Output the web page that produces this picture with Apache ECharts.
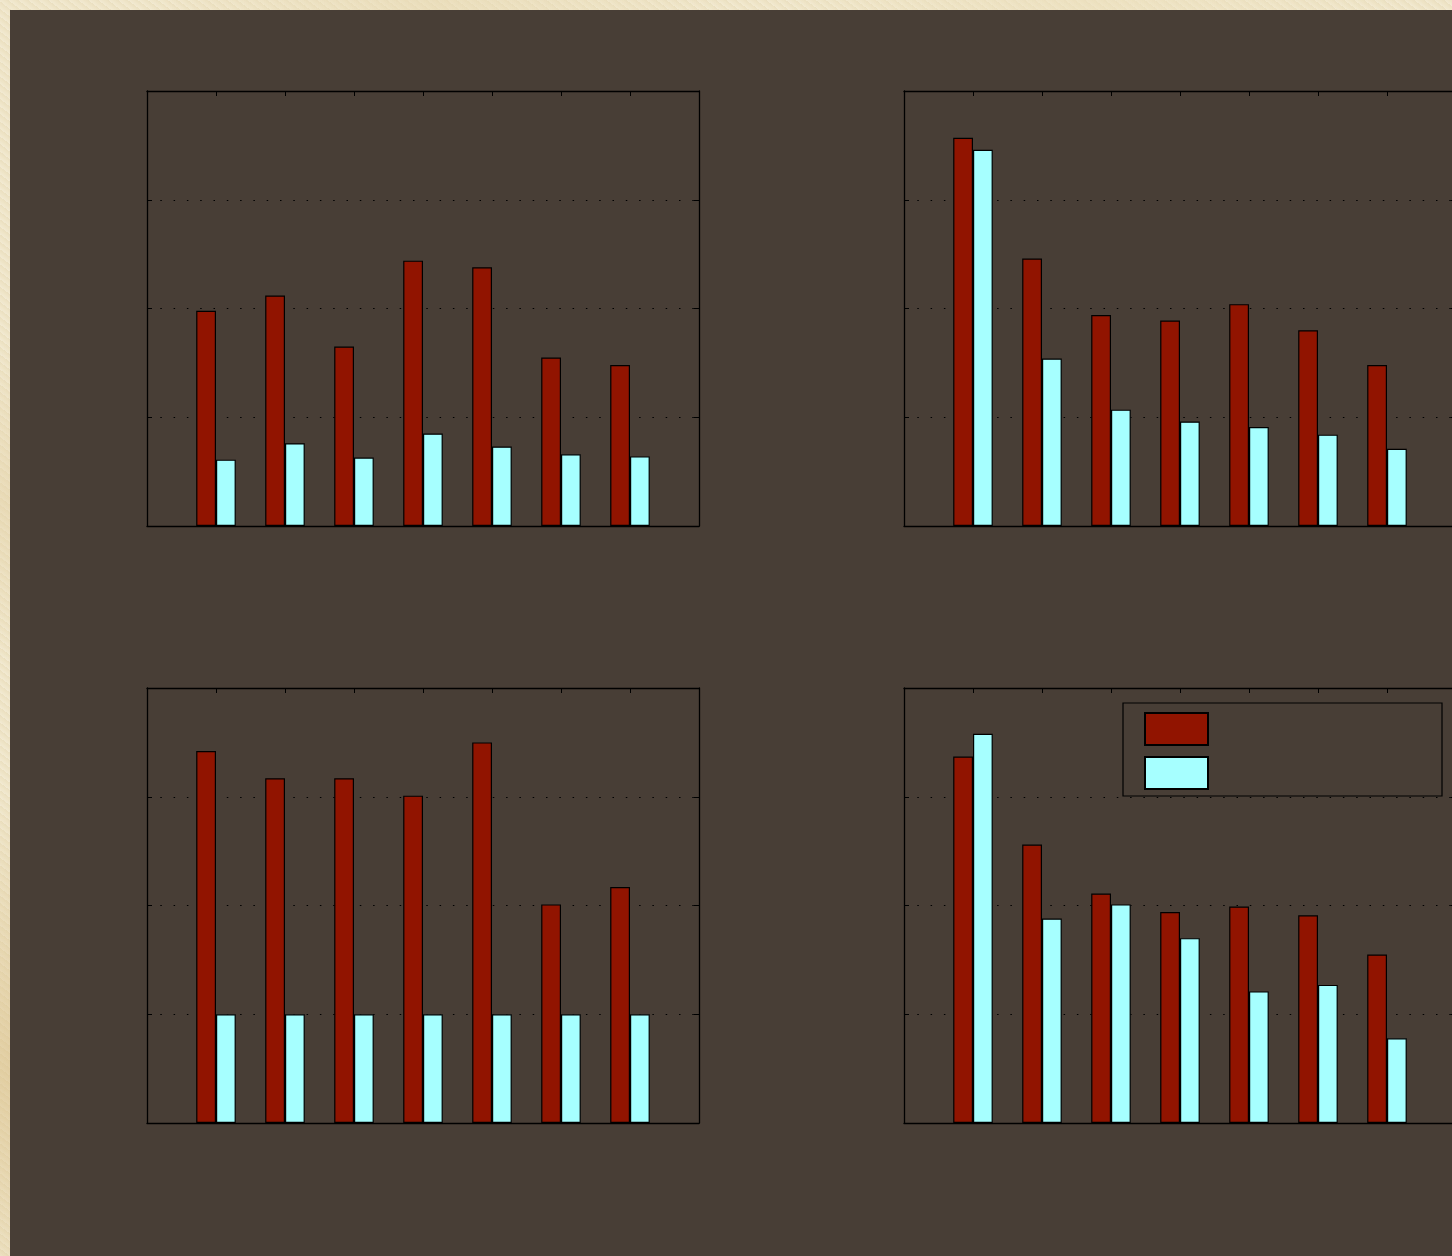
<!DOCTYPE html>
<html>
<head>
<meta charset="utf-8">
<script src="https://cdn.jsdelivr.net/npm/echarts/dist/echarts.min.js"></script>
<style>
html,body{margin:0;padding:0;width:1452px;height:1256px;overflow:hidden;}
body{
  background-color:#efe5c8;
  background-image:
    radial-gradient(ellipse at 2% 85%, rgba(214,186,128,0.55), rgba(214,186,128,0) 18%),
    radial-gradient(ellipse at 1% 40%, rgba(225,205,160,0.45), rgba(225,205,160,0) 15%),
    radial-gradient(ellipse at 30% 0%, rgba(230,215,175,0.5), rgba(230,215,175,0) 20%),
    radial-gradient(ellipse at 75% 0%, rgba(235,222,185,0.5), rgba(235,222,185,0) 20%),
    repeating-linear-gradient(37deg, rgba(255,255,255,0.18) 0px, rgba(255,255,255,0) 3px, rgba(200,180,130,0.12) 6px);
}
#chart{position:absolute;left:10px;top:10px;width:1460px;height:1260px;}
</style>
</head>
<body>
<div id="chart"></div>
<script>
const categories = [1, 2, 3, 4, 5, 6, 7];
const yTicks = [0, 1, 2, 3, 4];
const seriesNames = ['Series 1', 'Series 2'];

const tlRed  = [1.98, 2.12, 1.65, 2.44, 2.38, 1.55, 1.48];
const tlCyan = [0.61, 0.76, 0.63, 0.85, 0.73, 0.66, 0.64];

const trRed  = [3.57, 2.46, 1.94, 1.89, 2.04, 1.80, 1.48];
const trCyan = [3.46, 1.54, 1.07, 0.96, 0.91, 0.84, 0.71];

const blRed  = [3.42, 3.17, 3.17, 3.01, 3.50, 2.01, 2.17];
const blCyan = [1.00, 1.00, 1.00, 1.00, 1.00, 1.00, 1.00];

const brRed  = [3.37, 2.56, 2.11, 1.94, 1.99, 1.91, 1.55];
const brCyan = [3.58, 1.88, 2.01, 1.70, 1.21, 1.27, 0.78];

const panels = [
  {red: tlRed, cyan: tlCyan},
  {red: trRed, cyan: trCyan},
  {red: blRed, cyan: blCyan},
  {red: brRed, cyan: brCyan}
];

const BG = '#483e36';
const RED = '#911400';
const CYAN = '#a6ffff';

const gridPos = [
  {left: 137, top: 81},
  {left: 894, top: 81},
  {left: 137, top: 678},
  {left: 894, top: 678}
];

const grids = [], xAxes = [], yAxes = [], series = [];
const lineStyle = {color: '#000', width: 1.3};
panels.forEach((p, g) => {
  grids.push({left: gridPos[g].left, top: gridPos[g].top, width: 552, height: 435, containLabel: false});
  ['bottom', 'top'].forEach(pos => {
    xAxes.push({
      type: 'value', gridIndex: g, position: pos, min: 0, max: categories.length + 1, interval: 1,
      axisLine: {show: true, onZero: false, lineStyle: lineStyle},
      axisTick: {show: true, inside: true, length: 5, lineStyle: {color: '#000', width: 1}},
      axisLabel: {show: false}, splitLine: {show: false}
    });
  });
  ['left', 'right'].forEach((pos, k) => {
    yAxes.push({
      type: 'value', gridIndex: g, position: pos,
      min: yTicks[0], max: yTicks[yTicks.length - 1], interval: 1,
      axisLine: {show: true, onZero: false, lineStyle: lineStyle},
      axisTick: {show: true, inside: true, length: 5, lineStyle: {color: '#000', width: 1}},
      axisLabel: {show: false},
      splitLine: {show: k === 0, lineStyle: {color: '#000', width: 1, type: [1.5, 11.8]}}
    });
  });
  series.push({
    name: seriesNames[0], type: 'bar', xAxisIndex: 2 * g, yAxisIndex: 2 * g,
    data: categories.map((c, i) => [c, p.red[i]]),
    barWidth: 19.8, barGap: '0%',
    itemStyle: {color: RED, borderColor: '#000', borderWidth: 1.2},
    emphasis: {disabled: true}, animation: false
  });
  series.push({
    name: seriesNames[1], type: 'bar', xAxisIndex: 2 * g, yAxisIndex: 2 * g,
    data: categories.map((c, i) => [c, p.cyan[i]]),
    barWidth: 19.8, barGap: '0%',
    itemStyle: {color: CYAN, borderColor: '#000', borderWidth: 1.2},
    emphasis: {disabled: true}, animation: false
  });
});

const chart = echarts.init(document.getElementById('chart'), null, {renderer: 'canvas'});
chart.setOption({
  backgroundColor: BG,
  animation: false,
  grid: grids,
  xAxis: xAxes,
  yAxis: yAxes,
  legend: {
    data: seriesNames,
    orient: 'vertical',
    left: 1113, top: 693,
    itemWidth: 63, itemHeight: 32, itemGap: 10,
    padding: [9, 233, 6, 21],
    icon: 'rect',
    borderColor: '#000', borderWidth: 1.2,
    backgroundColor: BG,
    selectedMode: false,
    formatter: () => '',
    textStyle: {color: BG, fontSize: 1}
  },
  series: series
});
</script>
</body>
</html>
